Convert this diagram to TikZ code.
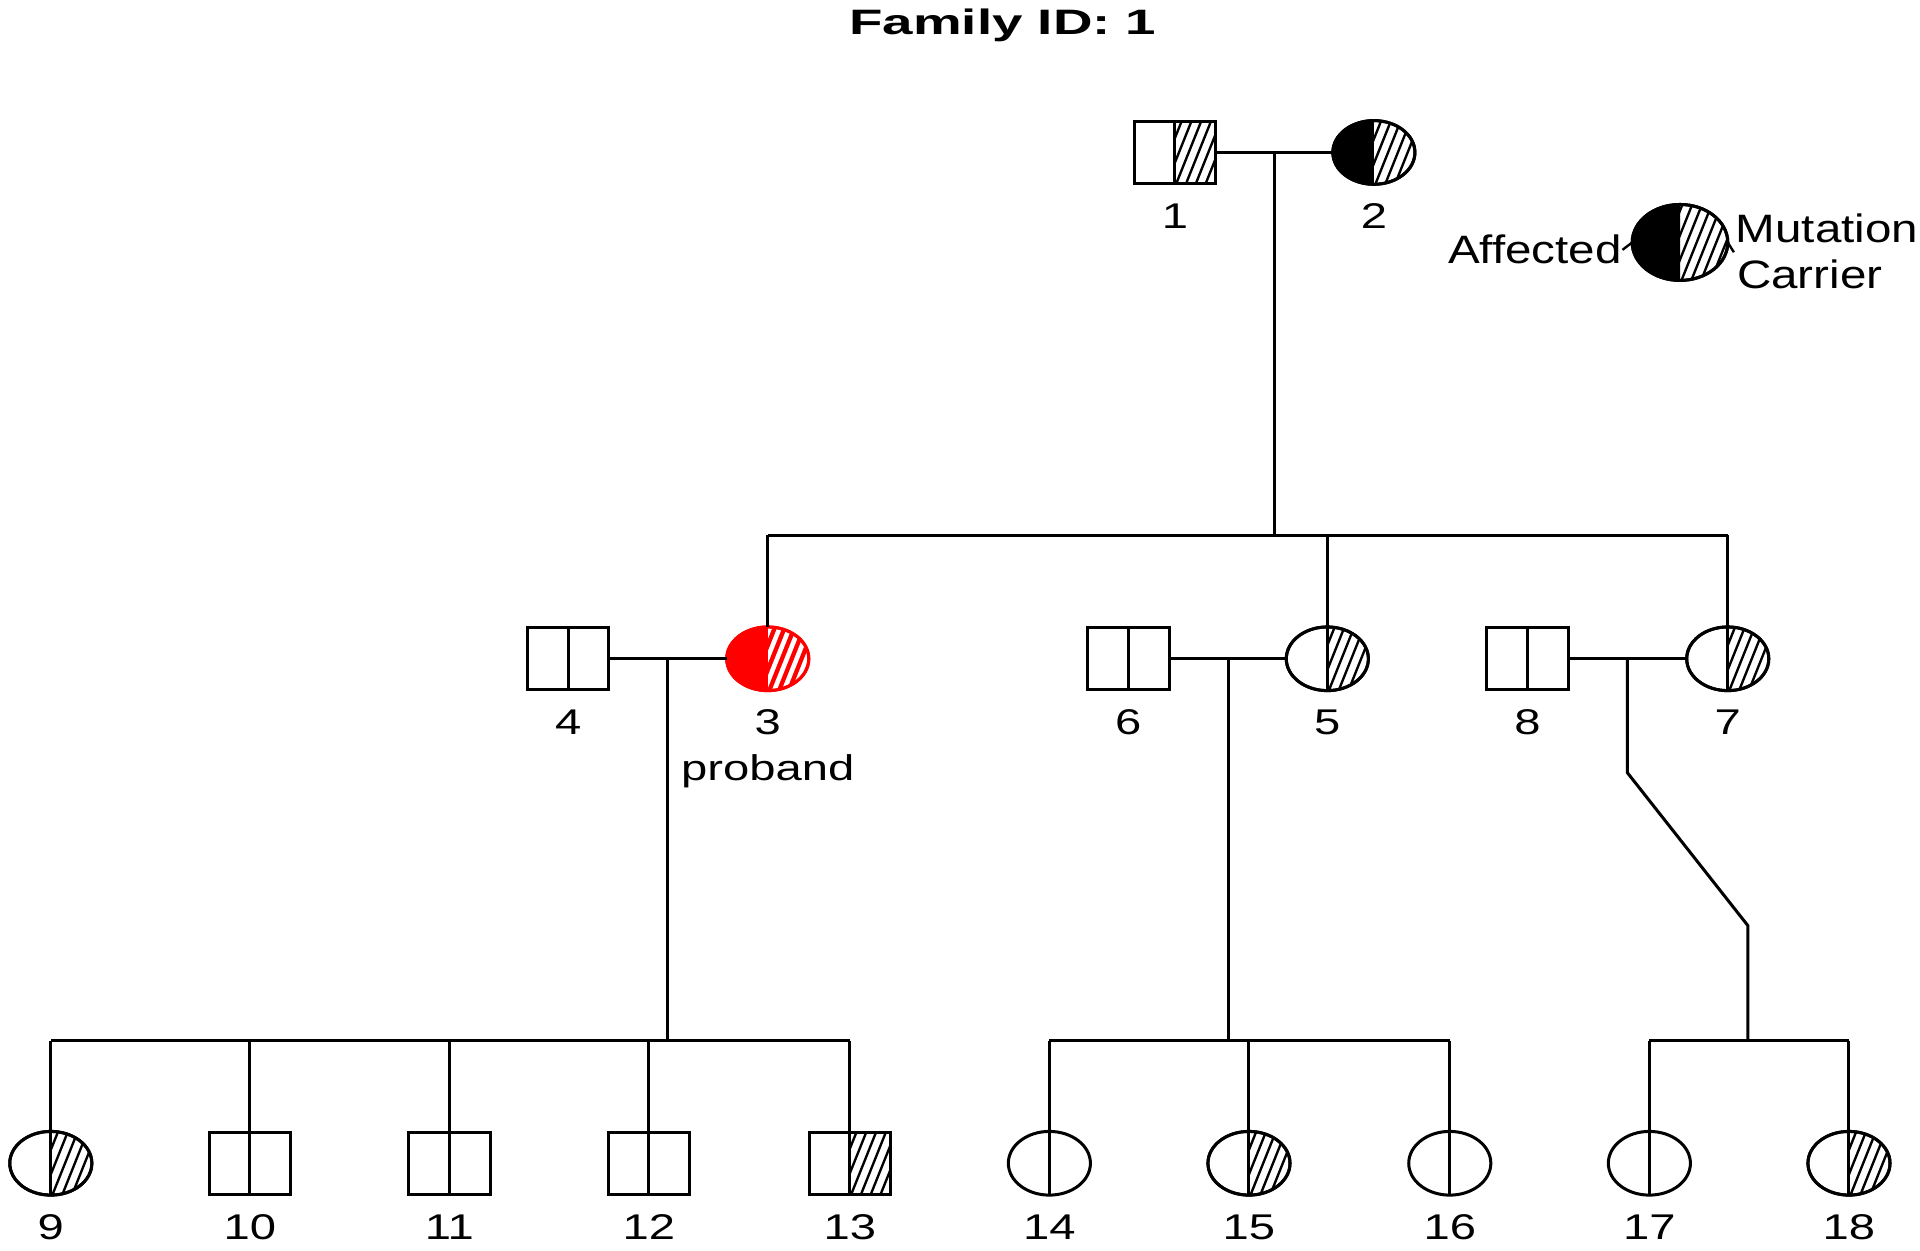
\documentclass[tikz,border=0pt]{standalone}
\usepackage{fontspec}
\setmainfont{Liberation Sans}
\newfontfamily\lblfont[FakeStretch=1.32]{Liberation Sans}
\newfontfamily\lgdfont[FakeStretch=1.2]{Liberation Sans}
\newfontfamily\ttlfont[FakeStretch=1.55]{Liberation Sans}
\usetikzlibrary{calc,shapes.geometric}
\tikzset{
  ln/.style={line width=0.7pt},
  hl/.style={line width=0.55pt},
  sq/.style={draw, line width=0.7pt, rectangle, minimum width=0.665cm, minimum height=0.505cm, inner sep=0pt, outer sep=0pt},
  el/.style={draw, line width=0.7pt, ellipse, minimum width=0.67cm, minimum height=0.52cm, inner sep=0pt, outer sep=0pt},
  lbl/.style={font=\lblfont\fontsize{8.3}{10}\selectfont, inner sep=0pt, anchor=base},
  lgd/.style={font=\lgdfont\fontsize{9.2}{11}\selectfont, inner sep=0pt},
  ttl/.style={font=\ttlfont\bfseries\fontsize{8.2}{10}\selectfont, inner sep=0pt, anchor=base},
}
% right half hatch: #1 style, #2 node, #3 half height
\newcommand\hatchR[3][hl]{%
  \begin{scope}
    \clip (#2.north) rectangle (#2.east |- #2.south);
    \foreach \d in {-72,-64,...,72}{\draw[#1] ($(#2.south)+(\d,3)$) -- ++({0.8*(#3+3)},{-2*(#3+3)});}
  \end{scope}}
% ellipse right half hatch: #1 style, #2 node, #3 rx, #4 ry
\newcommand\hatchE[4][hl]{%
  \begin{scope}
    \clip (#2.north) rectangle (#2.east |- #2.south);
    \clip (#2.center) ellipse [x radius=#3, y radius=#4];
    \foreach \d in {-72,-64,...,72}{\draw[#1] ($(#2.south)+(\d,3)$) -- ++({0.8*(#4+3)},{-2*(#4+3)});}
  \end{scope}}
% ellipse left half fill: #1 colour, #2 node, #3 rx, #4 ry
\newcommand\fillL[4]{%
  \begin{scope}
    \clip (#2.north) rectangle (#2.west |- #2.south);
    \fill[#1] (#2.center) ellipse [x radius=#3, y radius=#4];
  \end{scope}}
\begin{document}
\begin{tikzpicture}[x=0.01cm, y=-0.01cm]
\useasboundingbox (0,0) rectangle (1568,1021);

\node[ttl] (title) at (819,28) {Family ID: 1};

% generation I
\node[sq] (n1) at (959.5,124.5) {};
\node[el] (n2) at (1122,124.5) {};
% generation II
\node[sq] (n4) at (464,538) {};
\node[el, draw=red] (n3) at (627,538) {};
\node[sq] (n6) at (921.5,538) {};
\node[el] (n5) at (1084,538) {};
\node[sq] (n8) at (1247.5,538) {};
\node[el] (n7) at (1411,538) {};
% generation III
\node[el] (n9) at (41.5,950) {};
\node[sq] (n10) at (204,950) {};
\node[sq] (n11) at (367,950) {};
\node[sq] (n12) at (530,950) {};
\node[sq] (n13) at (694,950) {};
\node[el] (n14) at (857,950) {};
\node[el] (n15) at (1020,950) {};
\node[el] (n16) at (1184,950) {};
\node[el] (n17) at (1347,950) {};
\node[el] (n18) at (1510,950) {};
% legend
\node[draw, line width=0.7pt, ellipse, minimum width=0.78cm, minimum height=0.62cm, inner sep=0pt, outer sep=0pt] (lg) at (1372,198) {};

% fills and hatching
\hatchR{n1}{25.5}
\fillL{black}{n2}{33.5}{26}
\hatchE{n2}{33.5}{26}
\fillL{red}{n3}{33.5}{26}
\hatchE[{line width=1pt, red}]{n3}{33.5}{26}
\hatchE{n5}{33.5}{26}
\hatchE{n7}{33.5}{26}
\hatchE{n9}{33.5}{26}
\hatchR{n13}{25.5}
\hatchE{n15}{33.5}{26}
\hatchE{n18}{33.5}{26}
\fillL{black}{lg}{39}{31}
\hatchE{lg}{39}{31}
% redraw outlines
\node[sq] at (n1) {};
\node[el] at (n2) {};
\node[el, draw=red] at (n3) {};
\node[el] at (n5) {};
\node[el] at (n7) {};
\node[el] at (n9) {};
\node[sq] at (n13) {};
\node[el] at (n15) {};
\node[el] at (n18) {};
\node[draw, line width=0.7pt, ellipse, minimum width=0.78cm, minimum height=0.62cm, inner sep=0pt] at (lg) {};

% square dividers
\foreach \n in {n1,n4,n6,n8}{\draw[ln] (\n.north) -- (\n.south);}

% marriages and descent
\coordinate (m12) at (1041,124.5);
\coordinate (s1) at (1041,437);
\draw[ln] (n1) -- (n2);
\draw[ln] (m12) -- (s1);
\draw[ln] (n3.north |- s1) -- (n7.north |- s1);
\draw[ln] (n3.north |- s1) -- (n3.north);
\draw[ln] (n5.north |- s1) -- (n5.south);
\draw[ln] (n7.north |- s1) -- (n7.south);

\coordinate (m43) at (545,538);
\coordinate (s2) at (545,850);
\draw[ln] (n4) -- (n3);
\draw[ln] (m43) -- (s2);
\draw[ln] (n9.north |- s2) -- (n13.north |- s2);
\foreach \n in {n9,n10,n11,n12,n13}{\draw[ln] (\n.north |- s2) -- (\n.south);}

\coordinate (m65) at (1003,538);
\coordinate (s3) at (1003,850);
\draw[ln] (n6) -- (n5);
\draw[ln] (m65) -- (s3);
\draw[ln] (n14.north |- s3) -- (n16.north |- s3);
\foreach \n in {n14,n15,n16}{\draw[ln] (\n.north |- s3) -- (\n.south);}

\coordinate (m87) at (1329,538);
\coordinate (b1) at (1329,631);
\coordinate (b2) at (1427.5,756);
\coordinate (s4) at (1427.5,850);
\draw[ln] (n8) -- (n7);
\draw[ln] (m87) -- (b1) -- (b2) -- (s4);
\draw[ln] (n17.north |- s4) -- (n18.north |- s4);
\foreach \n in {n17,n18}{\draw[ln] (\n.north |- s4) -- (\n.south);}

% labels
\node[lbl] (l1) at (959.5,187) {1};
\node[lbl] (l2) at (1122,187) {2};
\node[lbl] (l4) at (464,600) {4};
\node[lbl] (l3) at (627,600) {3};
\node[lbl] (pb) at (627,637) {proband};
\node[lbl] (l6) at (921.5,600) {6};
\node[lbl] (l5) at (1084,600) {5};
\node[lbl] (l8) at (1247.5,600) {8};
\node[lbl] (l7) at (1411,600) {7};
\node[lbl] (l9) at (41.5,1012) {9};
\node[lbl] (l10) at (204,1012) {10};
\node[lbl] (l11) at (367,1012) {11};
\node[lbl] (l12) at (530,1012) {12};
\node[lbl] (l13) at (694,1012) {13};
\node[lbl] (l14) at (857,1012) {14};
\node[lbl] (l15) at (1020,1012) {15};
\node[lbl] (l16) at (1184,1012) {16};
\node[lbl] (l17) at (1347,1012) {17};
\node[lbl] (l18) at (1510,1012) {18};

% legend text
\node[lgd, anchor=base east] (aff) at (1325,215.6) {Affected};
\node[lgd, anchor=base west] (mut) at (1417,198) {Mutation};
\node[lgd, anchor=base west] (car) at (1418,236) {Carrier};
\coordinate (tk) at (1416,206);
\draw[hl] (aff.east) -- (lg.west);
\draw[hl] (lg.east) -- (tk);
\end{tikzpicture}
\end{document}
